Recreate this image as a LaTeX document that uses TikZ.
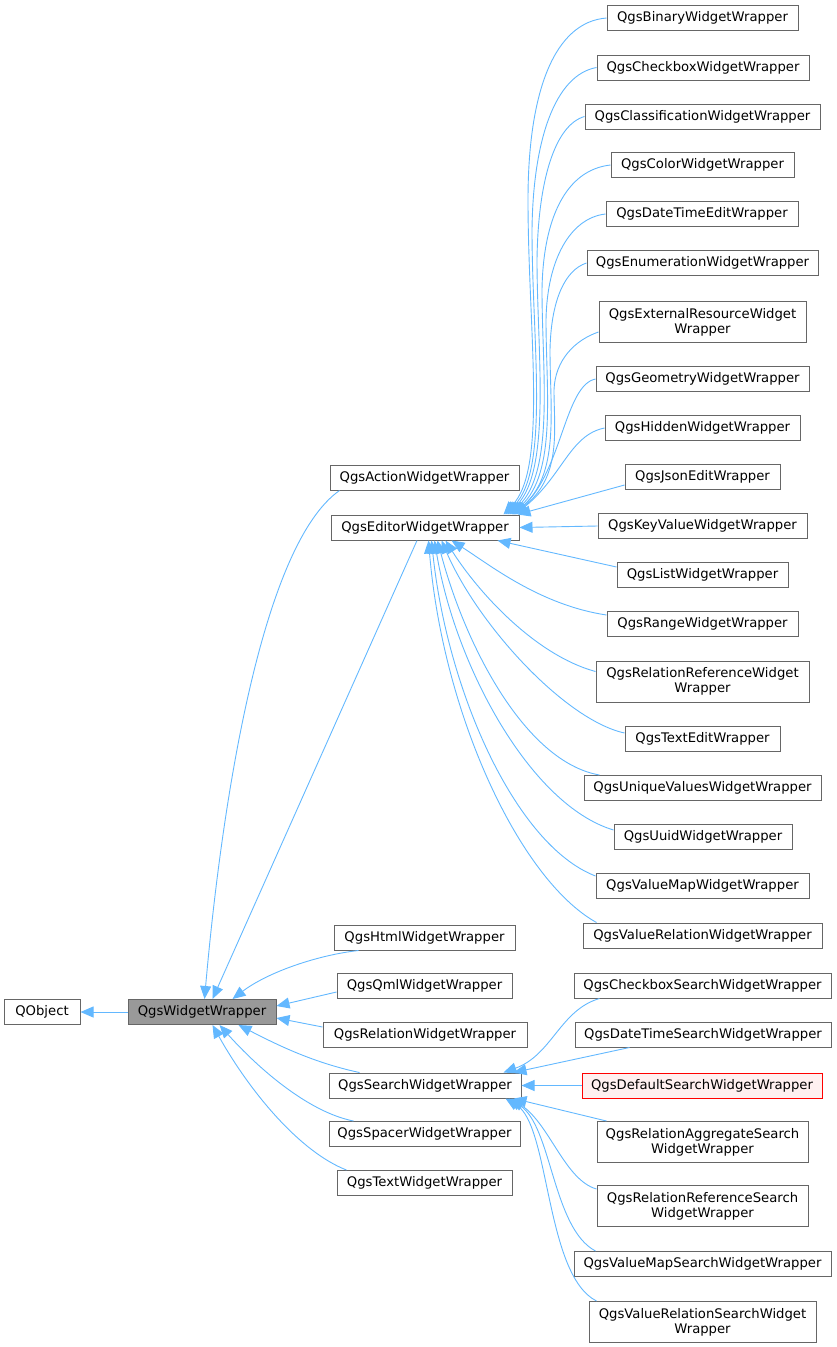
\documentclass[tikz,border=0pt]{standalone}
\usepackage{fontspec}
\setmainfont{DejaVu Sans}
\usetikzlibrary{arrows.meta}
\definecolor{edgeblue}{HTML}{63B8FF}
\definecolor{boxgray}{HTML}{666666}
\definecolor{curfill}{HTML}{999999}
\definecolor{redfill}{HTML}{FFF0F0}
\begin{document}
\begin{tikzpicture}[x=1pt,y=-1pt,
  wbox/.style={draw=boxgray, line width=1pt, fill=white, minimum height=25pt, inner sep=0pt, align=center, font=\fontsize{13.2}{15}\selectfont},
  tbox/.style={wbox, minimum height=41pt},
  curbox/.style={wbox, fill=curfill},
  redbox/.style={wbox, draw=red, fill=redfill},
  inh/.style={draw=edgeblue, line width=0.9pt, -{Triangle[length=13pt,width=11pt]}}]
\useasboundingbox (0,0) rectangle (836,1347);

% left
\node[wbox, minimum width=76pt] (qo) at (42,1012) {QObject};
\node[curbox, minimum width=148pt] (wg) at (202,1012) {QgsWidgetWrapper};

% middle
\node[wbox, minimum width=189pt] (act) at (424.5,477.5) {QgsActionWidgetWrapper};
\node[wbox, minimum width=188pt] (ed) at (425,527.5) {QgsEditorWidgetWrapper};
\node[wbox, minimum width=181pt] (htm) at (424.5,937.5) {QgsHtmlWidgetWrapper};
\node[wbox, minimum width=175pt] (qml) at (424.5,986) {QgsQmlWidgetWrapper};
\node[wbox, minimum width=204pt] (rel) at (425,1035) {QgsRelationWidgetWrapper};
\node[wbox, minimum width=192pt] (sr) at (425,1085.5) {QgsSearchWidgetWrapper};
\node[wbox, minimum width=191pt] (sp) at (424.5,1134) {QgsSpacerWidgetWrapper};
\node[wbox, minimum width=175pt] (txt) at (424.5,1183) {QgsTextWidgetWrapper};

% right
\node[wbox, minimum width=191pt] (bin) at (702.5,18) {QgsBinaryWidgetWrapper};
\node[wbox, minimum width=212pt] (cb) at (703,67.5) {QgsCheckboxWidgetWrapper};
\node[wbox, minimum width=235pt] (cls) at (702.5,116.5) {QgsClassificationWidgetWrapper};
\node[wbox, minimum width=183pt] (col) at (702.5,165) {QgsColorWidgetWrapper};
\node[wbox, minimum width=192pt] (dt) at (702,214) {QgsDateTimeEditWrapper};
\node[wbox, minimum width=231pt] (en) at (702.5,263) {QgsEnumerationWidgetWrapper};
\node[tbox, minimum width=207pt] (ext) at (702.5,322) {QgsExternalResourceWidget\\Wrapper};
\node[wbox, minimum width=213pt] (geo) at (702.5,379) {QgsGeometryWidgetWrapper};
\node[wbox, minimum width=195pt] (hid) at (702.5,428) {QgsHiddenWidgetWrapper};
\node[wbox, minimum width=155pt] (js) at (702.5,477) {QgsJsonEditWrapper};
\node[wbox, minimum width=209pt] (kv) at (702.5,526) {QgsKeyValueWidgetWrapper};
\node[wbox, minimum width=171pt] (ls) at (702.5,575) {QgsListWidgetWrapper};
\node[wbox, minimum width=191pt] (rng) at (702.5,624) {QgsRangeWidgetWrapper};
\node[tbox, minimum width=213pt] (rr) at (702.5,681.5) {QgsRelationReferenceWidget\\Wrapper};
\node[wbox, minimum width=155pt] (te) at (702.5,739) {QgsTextEditWrapper};
\node[wbox, minimum width=237pt] (uv) at (702.5,788) {QgsUniqueValuesWidgetWrapper};
\node[wbox, minimum width=178pt] (uu) at (703,837) {QgsUuidWidgetWrapper};
\node[wbox, minimum width=213pt] (vm) at (702.5,886) {QgsValueMapWidgetWrapper};
\node[wbox, minimum width=239pt] (vr) at (702.5,935.5) {QgsValueRelationWidgetWrapper};
\node[wbox, minimum width=257pt] (cbs) at (702.5,985.5) {QgsCheckboxSearchWidgetWrapper};
\node[wbox, minimum width=256pt] (dts) at (703,1034.5) {QgsDateTimeSearchWidgetWrapper};
\node[redbox, minimum width=240pt] (dfs) at (702,1085.5) {QgsDefaultSearchWidgetWrapper};
\node[tbox, minimum width=211pt] (ras) at (702.5,1142) {QgsRelationAggregateSearch\\WidgetWrapper};
\node[tbox, minimum width=211pt] (rrs) at (702.5,1206) {QgsRelationReferenceSearch\\WidgetWrapper};
\node[wbox, minimum width=257pt] (vms) at (702.5,1264) {QgsValueMapSearchWidgetWrapper};
\node[tbox, minimum width=227pt] (vrs) at (702.5,1322) {QgsValueRelationSearchWidget\\Wrapper};

% QObject <- QgsWidgetWrapper
\draw[inh] (wg.west) -- (qo.east);

% children of QgsWidgetWrapper
\draw[inh] ([xshift=10pt]act.south west) .. controls (262,545) and (222,800) .. ([xshift=77pt]wg.north west);
\draw[inh] ([xshift=-8pt]ed.south) -- ([xshift=85pt]wg.north west);
\draw[inh] ([xshift=25pt]htm.south west) .. controls (318,955) and (268,972) .. ([xshift=-44pt]wg.north east);
\draw[inh] ([yshift=-6pt]qml.west) -- ([yshift=6pt]wg.east);
\draw[inh] ([yshift=8pt]rel.west) -- ([yshift=-6pt]wg.east);
\draw[inh] ([xshift=31pt]sr.north west) .. controls (310,1062) and (272,1042) .. ([xshift=-38pt]wg.south east);
\draw[inh] ([xshift=25pt]sp.north west) .. controls (308,1112) and (258,1068) .. ([xshift=92pt]wg.south west);
\draw[inh] ([xshift=10pt]txt.north west) .. controls (300,1152) and (250,1092) .. ([xshift=85pt]wg.south west);

% children of QgsEditorWidgetWrapper (top fan)
\draw[inh] (bin.west) .. controls (555,22) and (528,90) .. (528,200) .. controls (528,330) and (548,468) .. ([xshift=-16pt]ed.north east);
\draw[inh] (cb.west) .. controls (555,75) and (533,140) .. (532,230) .. controls (532,340) and (550,469) .. ([xshift=-14pt]ed.north east);
\draw[inh] (cls.west) .. controls (555,125) and (538,180) .. (537,260) .. controls (537,350) and (552,470) .. ([xshift=-12pt]ed.north east);
\draw[inh] (col.west) .. controls (565,170) and (543,220) .. (542,290) .. controls (542,370) and (555,471) .. ([xshift=-10pt]ed.north east);
\draw[inh] (dt.west) .. controls (570,218) and (547,260) .. (546,320) .. controls (546,390) and (557,473) .. ([xshift=-8pt]ed.north east);
\draw[inh] (en.west) .. controls (565,270) and (551,300) .. (550,350) .. controls (550,410) and (560,475) .. ([xshift=-7pt]ed.north east);
\draw[inh] ([yshift=-10pt]ext.west) .. controls (575,340) and (555,360) .. (554,390) .. controls (554,430) and (562,477) .. ([xshift=-6pt]ed.north east);
\draw[inh] (geo.west) .. controls (565,385) and (562,470) .. ([xshift=-5pt]ed.north east);
\draw[inh] (hid.west) .. controls (570,435) and (563,475) .. ([xshift=-4pt]ed.north east);
\draw[inh] ([yshift=-8pt]js.west) -- ([xshift=-2pt]ed.north east);
\draw[inh] (kv.west) -- (ed.east);
% bottom fan
\draw[inh] ([yshift=8pt]ls.west) -- ([xshift=-22pt]ed.south east);
\draw[inh] ([yshift=9pt]rng.west) .. controls (540,605) and (490,565) .. ([xshift=-68pt]ed.south east);
\draw[inh] ([yshift=10pt]rr.west) .. controls (535,655) and (478,592) .. ([xshift=-74pt]ed.south east);
\draw[inh] ([yshift=6pt]te.west) .. controls (565,720) and (478,625) .. ([xshift=-78pt]ed.south east);
\draw[inh] ([xshift=16pt]uv.north west) .. controls (525,762) and (465,645) .. ([xshift=-82pt]ed.south east);
\draw[inh] ([yshift=7pt]uu.west) .. controls (530,805) and (455,665) .. ([xshift=-85pt]ed.south east);
\draw[inh] ([yshift=10pt]vm.west) .. controls (515,845) and (447,690) .. ([xshift=-88pt]ed.south east);
\draw[inh] ([xshift=14pt]vr.north west) .. controls (520,880) and (443,715) .. ([xshift=-91pt]ed.south east);

% children of QgsSearchWidgetWrapper
\draw[inh] ([xshift=26pt]cbs.south west) .. controls (560,1010) and (552,1055) .. ([xshift=-18pt]sr.north east);
\draw[inh] ([xshift=55pt]dts.south west) -- ([xshift=-8pt]sr.north east);
\draw[inh] (dfs.west) -- (sr.east);
\draw[inh] ([xshift=10pt]ras.north west) -- ([xshift=-8pt]sr.south east);
\draw[inh] ([yshift=17pt]rrs.west) .. controls (565,1180) and (550,1125) .. ([xshift=-10pt]sr.south east);
\draw[inh] ([xshift=22pt]vms.north west) .. controls (552,1228) and (552,1125) .. ([xshift=-13pt]sr.south east);
\draw[inh] ([xshift=8pt]vrs.north west) .. controls (545,1275) and (550,1125) .. ([xshift=-16pt]sr.south east);
\end{tikzpicture}
\end{document}
